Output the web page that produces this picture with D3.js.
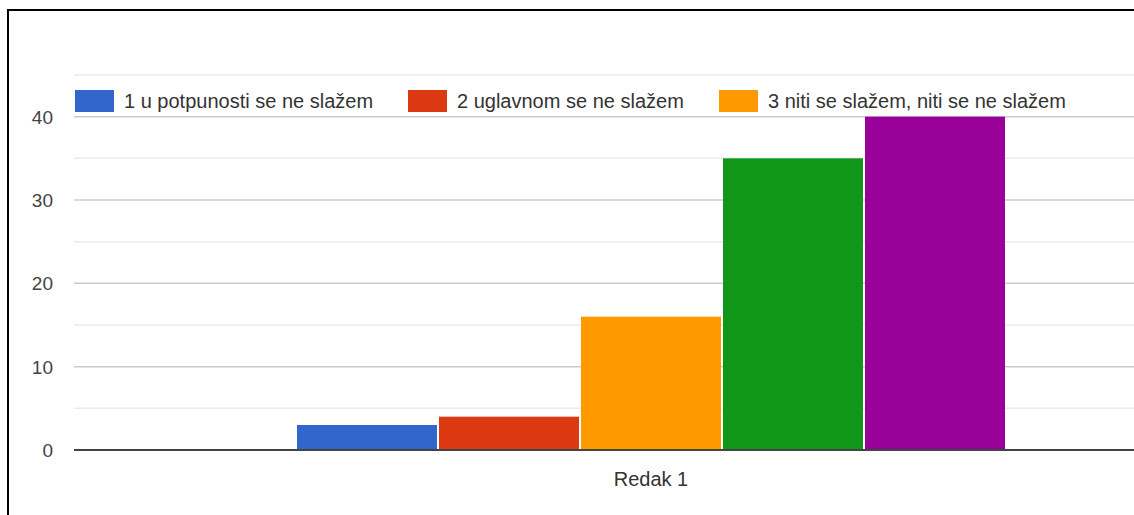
<!DOCTYPE html>
<html>
<head>
<meta charset="utf-8">
<script src="https://cdn.jsdelivr.net/npm/d3@7"></script>
<style>
  body { margin: 0; background: #fff; }
  svg { display: block; font-family: "Liberation Sans", Arial, sans-serif; }
</style>
</head>
<body>
<svg width="1134" height="515"></svg>
<script>
const rows = ["Redak 1"];
const seriesNames = [
  "1 u potpunosti se ne slažem",
  "2 uglavnom se ne slažem",
  "3 niti se slažem, niti se ne slažem",
  "4 uglavnom se slažem",
  "5 u potpunosti se slažem"
];
const seriesColors = ["#3366cc", "#dc3912", "#ff9900", "#109618", "#990099"];
const values = [3, 4, 16, 35, 40];
const yTicks = [0, 10, 20, 30, 40];
const legendShown = 3;

const svg = d3.select("svg");

// frame
svg.append("rect")
  .attr("x", 8).attr("y", 10)
  .attr("width", 1140).attr("height", 520)
  .attr("fill", "none").attr("stroke", "#000").attr("stroke-width", 2);

const plotL = 74, plotR = 1228, plotT = 75, plotB = 450;

const y = d3.scaleLinear([0, 45], [plotB, plotT]);
const x0 = d3.scaleBand(rows, [plotL, plotR]).paddingInner(0).paddingOuter(0.3127);
const x1 = d3.scaleBand(seriesNames, [0, x0.bandwidth()]).padding(0);

const g = svg.append("g");

// minor grid
g.selectAll("line.minor")
  .data(d3.range(5, 50, 10))
  .enter().append("line")
  .attr("x1", plotL).attr("x2", plotR)
  .attr("y1", d => y(d)).attr("y2", d => y(d))
  .attr("stroke", "#ebebeb").attr("stroke-width", 1.5);

// major grid
g.selectAll("line.major")
  .data(yTicks.filter(d => d > 0))
  .enter().append("line")
  .attr("x1", plotL).attr("x2", plotR)
  .attr("y1", d => y(d)).attr("y2", d => y(d))
  .attr("stroke", "#cccccc").attr("stroke-width", 1.5);

// y labels
g.selectAll("text.ytick")
  .data(yTicks)
  .enter().append("text")
  .attr("x", 53).attr("y", d => y(d))
  .attr("dy", "0.36em")
  .attr("text-anchor", "end")
  .attr("font-size", 19)
  .attr("fill", "#444")
  .text(d => d);

// bars
const groups = g.selectAll("g.row")
  .data(rows)
  .enter().append("g")
  .attr("transform", d => `translate(${x0(d)},0)`);

groups.selectAll("rect")
  .data(seriesNames.map((s, i) => ({ s, v: values[i], c: seriesColors[i] })))
  .enter().append("rect")
  .attr("x", d => x1(d.s) + 1)
  .attr("width", x1.bandwidth() - 2)
  .attr("y", d => y(d.v))
  .attr("height", d => plotB - y(d.v))
  .attr("fill", d => d.c);

// baseline
g.append("line")
  .attr("x1", plotL).attr("x2", plotR)
  .attr("y1", plotB).attr("y2", plotB)
  .attr("stroke", "#444").attr("stroke-width", 2);

// x label
g.selectAll("text.xlab")
  .data(rows)
  .enter().append("text")
  .attr("x", d => x0(d) + x0.bandwidth() / 2)
  .attr("y", 486)
  .attr("text-anchor", "middle")
  .attr("font-size", 20)
  .attr("fill", "#333")
  .text(d => d);

// legend
const legendX = [75, 408, 719];
const legend = g.selectAll("g.leg")
  .data(seriesNames.slice(0, legendShown))
  .enter().append("g")
  .attr("transform", (d, i) => `translate(${legendX[i]},90)`);

legend.append("rect")
  .attr("width", 39).attr("height", 22)
  .attr("fill", (d, i) => seriesColors[i]);

legend.append("text")
  .attr("x", 49).attr("y", 11)
  .attr("dy", "0.36em")
  .attr("font-size", 20)
  .attr("fill", "#333")
  .text(d => d);
</script>
</body>
</html>
